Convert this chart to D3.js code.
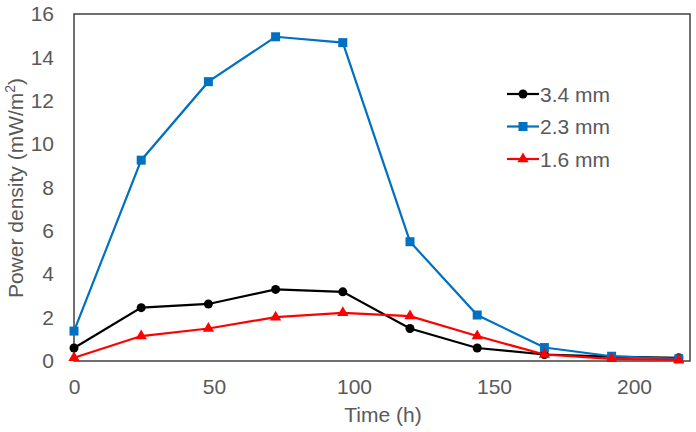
<!DOCTYPE html>
<html>
<head>
<meta charset="utf-8">
<script src="https://cdn.jsdelivr.net/npm/d3@7"></script>
<style>
body { margin: 0; background: #fff; }
text { font-family: "Liberation Sans", Arial, sans-serif; fill: #595959; }
</style>
</head>
<body>
<script>
var hours = [0, 24, 48, 72, 96, 120, 144, 168, 192, 216];
var mm34 = [0.6, 2.46, 2.63, 3.3, 3.19, 1.5, 0.6, 0.3, 0.2, 0.15];
var mm23 = [1.38, 9.26, 12.88, 14.95, 14.68, 5.5, 2.12, 0.62, 0.22, 0.1];
var mm16 = [0.15, 1.15, 1.5, 2.02, 2.22, 2.07, 1.15, 0.3, 0.1, 0.05];
var xTicks = [0, 50, 100, 150, 200];
var yTicks = [0, 2, 4, 6, 8, 10, 12, 14, 16];

var series = [
    {name: "3.4 mm", values: mm34, color: "#000000", marker: "circle"},
    {name: "2.3 mm", values: mm23, color: "#0070C0", marker: "square"},
    {name: "1.6 mm", values: mm16, color: "#FF0000", marker: "triangle"}
];

var margin = {top: 14, right: 6, bottom: 71, left: 74},
    width = 696 - margin.left - margin.right,
    height = 432 - margin.top - margin.bottom;

var svg = d3.select("body").append("svg")
    .attr("width", 696)
    .attr("height", 432);

var g = svg.append("g")
    .attr("transform", "translate(" + margin.left + "," + margin.top + ")");

var x = d3.scaleLinear().domain([0, 220]).range([0, width]);
var y = d3.scaleLinear().domain([0, 16]).range([height, 0]);

// frame
g.append("rect")
    .attr("width", width)
    .attr("height", height)
    .attr("fill", "none")
    .attr("stroke", "#404040")
    .attr("stroke-width", 1.5);

var xAxis = g.append("g")
    .attr("transform", "translate(0," + height + ")")
    .call(d3.axisBottom(x).tickValues(xTicks).tickSize(0).tickPadding(18));
xAxis.select(".domain").remove();
xAxis.selectAll("text").style("font-size", "21px").attr("fill", "#595959");

var yAxis = g.append("g")
    .call(d3.axisLeft(y).tickValues(yTicks).tickSize(0).tickPadding(20));
yAxis.select(".domain").remove();
yAxis.selectAll("text").style("font-size", "21px").attr("fill", "#595959");

svg.append("text")
    .attr("x", 383)
    .attr("y", 422)
    .attr("text-anchor", "middle")
    .style("font-size", "21px")
    .text("Time (h)");

var yt = svg.append("text")
    .attr("transform", "translate(23,188) rotate(-90)")
    .attr("text-anchor", "middle")
    .style("font-size", "21px");
yt.append("tspan").text("Power density (mW/m");
yt.append("tspan").attr("dy", -8).style("font-size", "14px").text("2");
yt.append("tspan").attr("dy", 8).text(")");

var line = d3.line()
    .x(function(d, i) { return x(hours[i]); })
    .y(function(d) { return y(d); });

function drawMarker(sel, type, color) {
    if (type == "circle") {
        sel.append("circle").attr("r", 4.5).attr("fill", color);
    } else if (type == "square") {
        sel.append("rect").attr("x", -4.5).attr("y", -4.5)
            .attr("width", 9).attr("height", 9).attr("fill", color);
    } else {
        sel.append("path").attr("d", d3.symbol().type(d3.symbolTriangle).size(55)()).attr("fill", color);
    }
}

series.forEach(function(s) {
    g.append("path")
        .datum(s.values)
        .attr("fill", "none")
        .attr("stroke", s.color)
        .attr("stroke-width", 2.2)
        .attr("d", line);

    g.selectAll(null)
        .data(s.values)
        .enter().append("g")
        .attr("transform", function(d, i) { return "translate(" + x(hours[i]) + "," + y(d) + ")"; })
        .each(function() { drawMarker(d3.select(this), s.marker, s.color); });
});

// legend
var legend = svg.append("g").attr("transform", "translate(507,94)");
series.forEach(function(s, i) {
    var row = legend.append("g").attr("transform", "translate(0," + (i * 32.5) + ")");
    row.append("line").attr("x1", 0).attr("x2", 32).attr("y1", 0).attr("y2", 0)
        .attr("stroke", s.color).attr("stroke-width", 2.2);
    var m = row.append("g").attr("transform", "translate(16,0)");
    drawMarker(m, s.marker, s.color);
    row.append("text").attr("x", 33).attr("y", 7.5)
        .style("font-size", "21px").text(s.name);
});
</script>
</body>
</html>
